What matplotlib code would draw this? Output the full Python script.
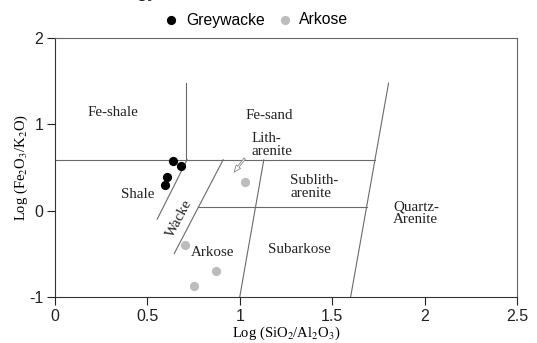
import matplotlib
matplotlib.use('Agg')
import matplotlib.pyplot as plt
from matplotlib.patches import FancyArrowPatch

# sample points (log SiO2/Al2O3, log Fe2O3/K2O)
greywacke_x = [0.64, 0.68, 0.604, 0.596]
greywacke_y = [0.58, 0.515, 0.387, 0.30]
arkose_x = [1.027, 0.706, 0.869, 0.751]
arkose_y = [0.33, -0.40, -0.70, -0.87]

# field boundaries of the classification diagram: (x0, y0, x1, y1)
boundaries = [
    (0.0, 0.59, 1.731, 0.59),
    (0.71, 0.59, 0.71, 1.48),
    (0.553, -0.10, 0.715, 0.59),
    (0.645, -0.50, 0.91, 0.59),
    (0.776, 0.04, 1.686, 0.04),
    (1.0, -1.0, 1.13, 0.59),
    (1.6, -1.0, 1.805, 1.48),
]

# field names: (text, x, y, ha, rotation)
field_labels = [
    ("Fe-shale", 0.315, 1.135, 'center', 0),
    ("Shale", 0.45, 0.19, 'center', 0),
    ("Fe-sand", 1.158, 1.10, 'center', 0),
    ("Lith-\narenite", 1.062, 0.765, 'left', 0),
    ("Sublith-\narenite", 1.274, 0.275, 'left', 0),
    ("Subarkose", 1.324, -0.45, 'center', 0),
    ("Arkose", 0.852, -0.49, 'center', 0),
    ("Wacke", 0.672, -0.086, 'center', 62),
    ("Quartz-\nArenite", 1.829, -0.03, 'left', 0),
]

x_ticks = [0, 0.5, 1, 1.5, 2, 2.5]
x_ticklabels = ['0', '0.5', '1', '1.5', '2', '2.5']
y_ticks = [-1, 0, 1, 2]
y_ticklabels = ['-1', '0', '1', '2']

plt.rcParams['font.family'] = ['Liberation Sans', 'DejaVu Sans']
plt.rcParams['mathtext.fontset'] = 'stix'
serif = 'Liberation Serif'

fig = plt.figure(figsize=(5.37, 3.43), dpi=100)
ax = fig.add_axes([55 / 537, 1 - 296.7 / 343, 462 / 537, 258.4 / 343])

for x0, y0, x1, y1 in boundaries:
    ax.plot([x0, x1], [y0, y1], color='#6a6a6a', lw=0.8, zorder=1)

for text, x, y, ha, rot in field_labels:
    ax.text(x, y, text, ha=ha, va='center', rotation=rot, fontsize=10.8,
            family=serif, color='#222222', linespacing=1.0, zorder=2)

arrow = FancyArrowPatch((1.036, 0.63), (0.96, 0.42),
                        arrowstyle='simple,head_width=4,head_length=5,tail_width=1.2',
                        fc='white', ec='#888888', lw=0.6, zorder=2)
ax.add_patch(arrow)

ax.scatter(greywacke_x, greywacke_y, s=44, color='black', lw=0, zorder=3, label='Greywacke')
ax.scatter(arkose_x, arkose_y, s=44, color='#bcbcbc', lw=0, zorder=3, label='Arkose')

ax.set_xlim(0, 2.5)
ax.set_ylim(-1, 2)
ax.set_xticks(x_ticks)
ax.set_xticklabels(x_ticklabels)
ax.set_yticks(y_ticks)
ax.set_yticklabels(y_ticklabels)
ax.tick_params(direction='out', length=5.5, width=0.8, labelsize=11.5, colors='#222222', pad=3)
ax.tick_params(axis='x', pad=3.5)
for side in ['left', 'bottom']:
    ax.spines[side].set_color('#333333')
for side in ['top', 'right']:
    ax.spines[side].set_color('#666666')

ax.set_xlabel(r"Log (SiO$_2$/Al$_2$O$_3$)", family=serif, fontsize=10.5, labelpad=0)
ax.set_ylabel(r"Log (Fe$_2$O$_3$/K$_2$O)", family=serif, fontsize=10.5, labelpad=-1)

fig.legend(loc='center', bbox_to_anchor=(256 / 537, 1 - 20 / 343), ncol=2, frameon=False,
           fontsize=11.3, handlelength=1.0, handletextpad=0.45, columnspacing=0.75,
           borderaxespad=0, borderpad=0)

# title cut off at the top edge, only descenders show
fig.text(158 / 537, 1 + 3 / 343, "Lithology", ha='right', va='baseline', fontsize=14, color='#222222')

fig.savefig('out.png', dpi=100)
